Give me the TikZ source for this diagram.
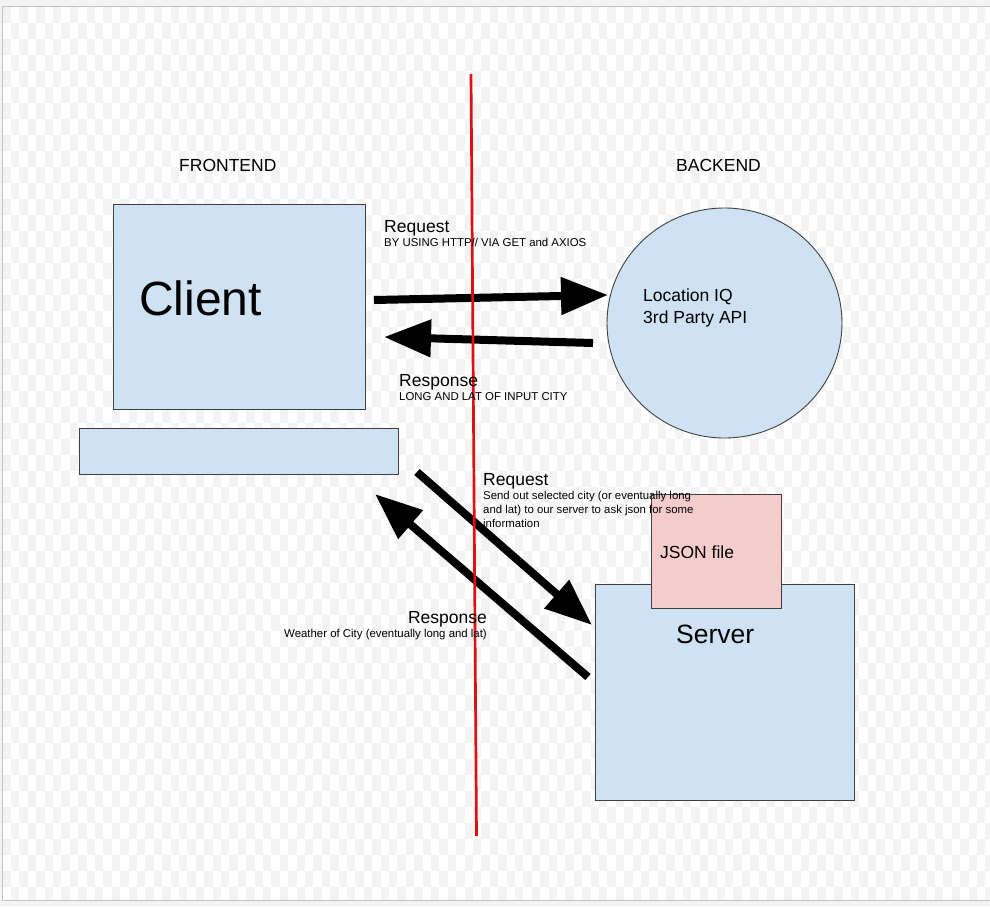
\documentclass[tikz,border=0pt]{standalone}
\usepackage{fontspec}
\setmainfont{Liberation Sans}
\usetikzlibrary{arrows.meta,shapes.geometric}
\definecolor{boxblue}{HTML}{CFE2F3}
\definecolor{boxpink}{HTML}{F4CCCC}
\definecolor{outbg}{HTML}{F3F4F6}
\definecolor{checker}{HTML}{F3F3F3}
\definecolor{framegray}{HTML}{C2C2C2}
\definecolor{redline}{HTML}{E01010}
\tikzset{
  box/.style={draw=black!75, line width=0.9pt, anchor=north west, inner sep=0pt, outer sep=0pt},
  bigarrow/.style={line width=8pt, -{Triangle[length=47pt,width=36pt]}},
  lbl/.style={anchor=base west, inner sep=0pt, font=\fontsize{17.5}{20}\selectfont},
  sub/.style={anchor=base west, inner sep=0pt, font=\fontsize{11.4}{14}\selectfont},
}
\begin{document}
\begin{tikzpicture}[x=1pt,y=-1pt]
\useasboundingbox (0,0) rectangle (990,906);
\fill[outbg] (0,0) rectangle (990,906);
\fill[white] (2.5,6) rectangle (995,900);
\begin{scope}
\clip (2.5,6) rectangle (995,900);
\foreach \j [evaluate=\j as \yy using {15+16*\j}, evaluate=\j as \ph using {mod(\j,2)*8.4}] in {0,...,55} {
  \draw[checker, line width=16pt, dash pattern=on 8.4pt off 8.4pt, dash phase=\ph pt] (2.5,\yy) -- (995,\yy);
}
\end{scope}
\draw[framegray, line width=1pt] (2.5,6) rectangle (995,900);

% headings
\node[lbl] (fe) at (179,171) {FRONTEND};
\node[lbl] (be) at (676,171) {BACKEND};

% client
\node[box, fill=boxblue, minimum width=252pt, minimum height=205pt] (client) at (113,204) {};
\node[anchor=base west, inner sep=0pt, font=\fontsize{48}{52}\selectfont] (clienttxt) at (139,315) {Client};
\node[box, fill=boxblue, minimum width=319pt, minimum height=46pt] (bar) at (79,428) {};

% api circle
\node[ellipse, draw=black!75, line width=0.9pt, fill=boxblue, minimum width=235pt, minimum height=230pt, inner sep=0pt] (api) at (724.5,323) {};
\node[lbl] (loc1) at (643,301) {Location IQ};
\node[lbl] (loc2) at (643,323) {3rd Party API};

% server and json
\node[box, fill=boxblue, minimum width=259pt, minimum height=216pt] (server) at (595,584) {};
\node[box, fill=boxpink, minimum width=130pt, minimum height=114pt] (json) at (651,494) {};
\node[lbl] (jsontxt) at (660,558) {JSON file};
\node[anchor=base west, inner sep=0pt, font=\fontsize{26.5}{30}\selectfont] (servertxt) at (676,643) {Server};

% arrows
\coordinate (a1s) at (374,300);
\coordinate (a1e) at (608,295);
\coordinate (a2s) at (593,343);
\coordinate (a2e) at (384,337);
\coordinate (a3s) at (417,472);
\coordinate (a3e) at (592,625);
\coordinate (a4s) at (588,677);
\coordinate (a4e) at (375,494);
\draw[bigarrow] (a1s) -- (a1e);
\draw[bigarrow] (a2s) -- (a2e);
\draw[bigarrow] (a3s) -- (a3e);
\draw[bigarrow] (a4s) -- (a4e);

% red divider
\coordinate (rtop) at (471,74);
\coordinate (rbot) at (476.5,836);
\draw[redline, line width=2.7pt] (rtop) -- (rbot);

% labels
\node[lbl] (req1) at (384,232) {Request};
\node[sub] (req1s) at (384,246) {BY USING HTTP// VIA GET and AXIOS};
\node[lbl] (res1) at (399,386) {Response};
\node[sub] (res1s) at (399,400) {LONG AND LAT OF INPUT CITY};
\node[lbl] (req2) at (483,485) {Request};
\node[sub] (req2a) at (483,499.5) {Send out selected city (or eventually long};
\node[sub] (req2b) at (483,513.5) {and lat) to our server to ask json for some};
\node[sub] (req2c) at (483,527.5) {information};
\node[lbl, anchor=base east] (res2) at (487,623) {Response};
\node[sub, anchor=base east] (res2s) at (487,637.5) {Weather of City (eventually long and lat)};
\end{tikzpicture}
\end{document}
